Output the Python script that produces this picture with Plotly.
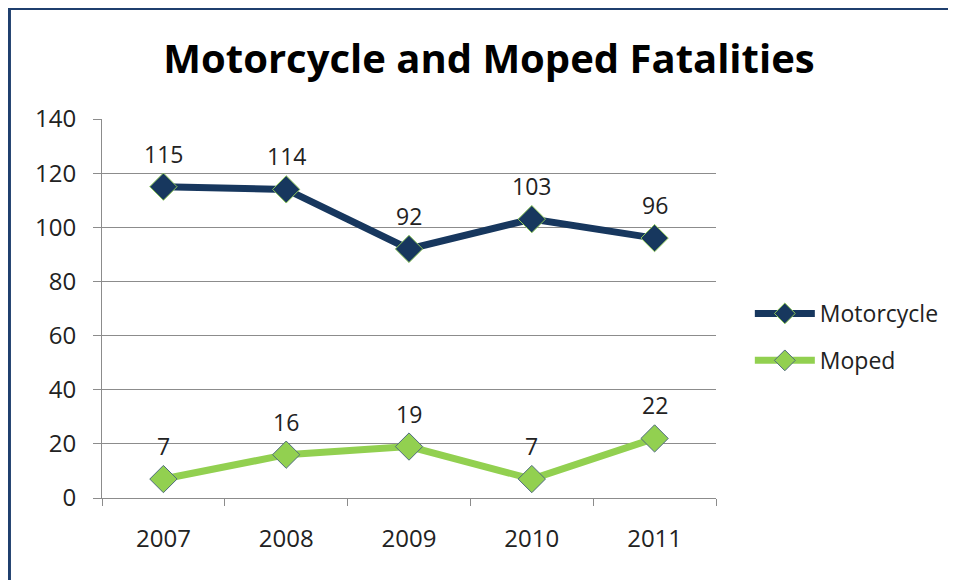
import plotly.graph_objects as go

years = ["2007", "2008", "2009", "2010", "2011"]
motorcycle = [115, 114, 92, 103, 96]
moped = [7, 16, 19, 7, 22]
y_ticks = [0, 20, 40, 60, 80, 100, 120, 140]

FONT = "Open Sans"
# page body has an 8px margin, so the figure is placed at (8, 8)
W, H = 948, 572
L, T = 94, 111
pw, ph = 617, 379
R, B = W - L - pw, H - T - ph

fig = go.Figure()
fig.add_trace(go.Scatter(
    x=years, y=motorcycle, name="Motorcycle", mode="lines+markers",
    legendgroup="a",
    line=dict(color="#17375E", width=7),
    marker=dict(symbol="diamond", size=21, color="#17375E",
                line=dict(color="#8FC85A", width=1)),
))
fig.add_trace(go.Scatter(
    x=years, y=moped, name="Moped", mode="lines+markers",
    legendgroup="b",
    line=dict(color="#92D050", width=7),
    marker=dict(symbol="diamond", size=21, color="#92D050",
                line=dict(color="#4F6B7E", width=1)),
))

anns = []
for series in (motorcycle, moped):
    for i, yv in enumerate(series):
        anns.append(dict(x=i, y=yv, xref="x", yref="y", text=str(yv), showarrow=False,
                         yshift=33, font=dict(family=FONT, size=23, color="#222")))

def px2x(px):
    return (px - L) / pw

def py2y(py):
    return (H - B - py) / ph

fig.update_layout(
    width=W, height=H,
    margin=dict(l=L, r=R, t=T, b=B),
    paper_bgcolor="white", plot_bgcolor="white",
    title=dict(text="<b>Motorcycle and Moped Fatalities</b>", x=481 / W, xanchor="center",
               y=1 - 51 / H, yanchor="middle",
               font=dict(family=FONT, size=40, color="#000")),
    xaxis=dict(type="category", range=[-0.5, 4.5], showgrid=False,
               showline=True, linecolor="#8c8c8c", linewidth=1,
               ticks="outside", tickson="boundaries", ticklen=7, tickcolor="#8c8c8c",
               ticklabelstandoff=19,
               tickfont=dict(family=FONT, size=24, color="#222"), zeroline=False),
    yaxis=dict(range=[0, 140], tickvals=y_ticks, showgrid=True, gridcolor="#8c8c8c",
               gridwidth=1, showline=True, linecolor="#8c8c8c", linewidth=1,
               ticks="outside", ticklen=8, tickcolor="#8c8c8c",
               ticklabelstandoff=12,
               tickfont=dict(family=FONT, size=24, color="#222"), zeroline=False),
    legend=dict(x=px2x(745), y=py2y(329), xanchor="left", yanchor="middle",
                font=dict(family=FONT, size=23, color="#222"), tracegroupgap=14,
                itemwidth=60, bgcolor="rgba(0,0,0,0)"),
    annotations=anns,
    shapes=[dict(type="rect", xref="paper", yref="paper",
                 x0=px2x(1), x1=px2x(1000), y0=py2y(700), y1=py2y(0.5),
                 line=dict(color="#1F3F6E", width=3), fillcolor="rgba(0,0,0,0)",
                 layer="below")],
    showlegend=True,
)

fig.write_html("out.html")
